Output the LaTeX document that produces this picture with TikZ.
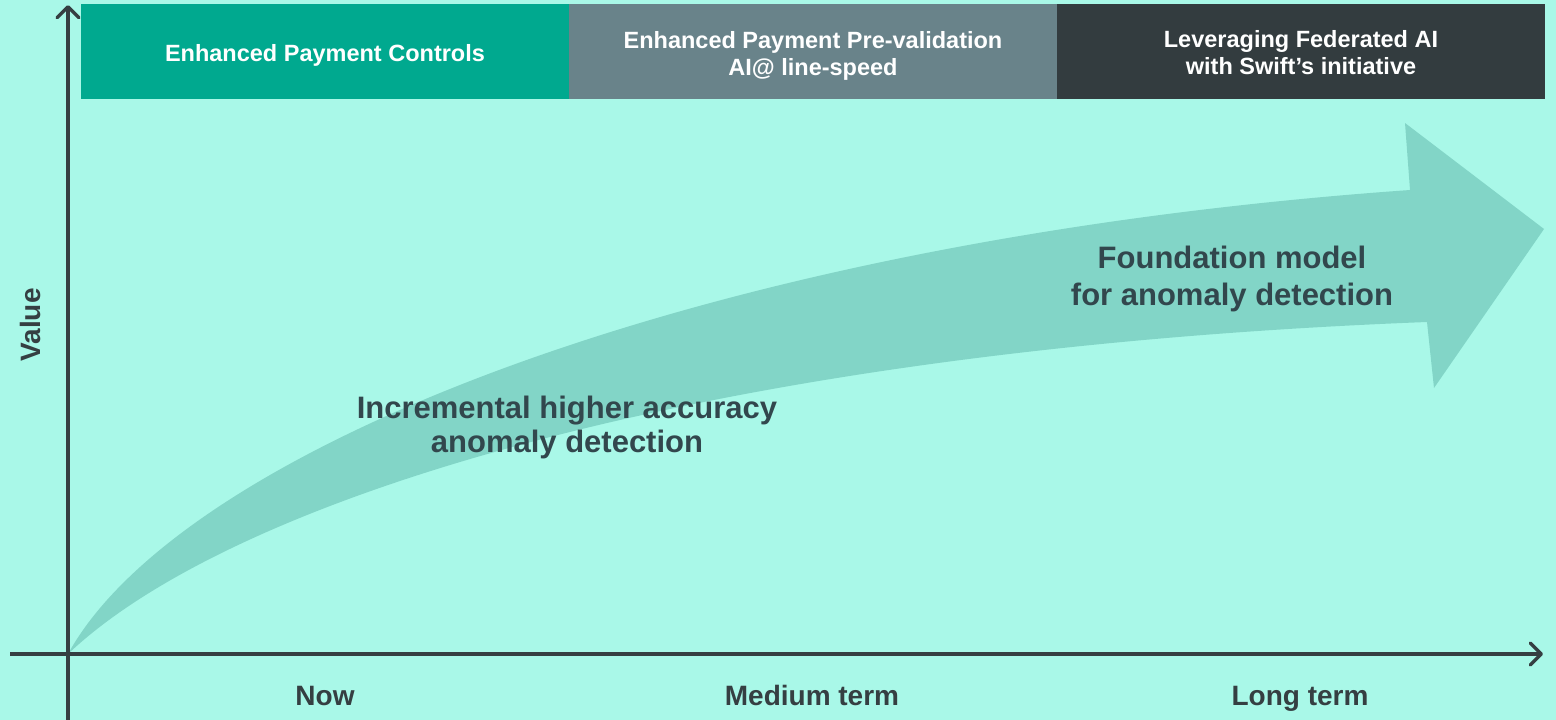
\documentclass[tikz,border=0pt]{standalone}
\usepackage{fontspec}
\setmainfont{Liberation Sans}
\usetikzlibrary{positioning,arrows.meta}

\definecolor{mint}{HTML}{A9F8E8}
\definecolor{band}{HTML}{82D5C7}
\definecolor{ctrl}{HTML}{00A98F}
\definecolor{prev}{HTML}{69838A}
\definecolor{fedai}{HTML}{333C3F}
\definecolor{axisc}{HTML}{353F42}
\definecolor{notec}{HTML}{32474D}

\def\bw{488pt}
\def\bh{95pt}

\begin{document}
\begin{tikzpicture}[x=1pt,y=-1pt,
    phase/.style={minimum width=\bw,minimum height=\bh,inner sep=0pt,outer sep=0pt},
    ptext/.style={text=white,align=center,font=\bfseries\fontsize{23.5}{27}\selectfont},
    tlabel/.style={text=axisc,font=\bfseries\fontsize{28}{32}\selectfont},
    note/.style={text=notec,align=center,font=\bfseries\fontsize{31}{#1}\selectfont},
    axis/.style={draw=axisc,line width=3.5pt,-{Straight Barb[length=11pt,width=22pt,round]}}]
    \fill[mint] (0,0) rectangle (1556,720);
    \useasboundingbox (0,0) rectangle (1556,720);

    \node[phase,fill=ctrl] (P1) at (325,51.5) {};
    \node[phase,fill=prev] (P2) [right=0pt of P1] {};
    \node[phase,fill=fedai] (P3) [right=0pt of P2] {};
    \node[ptext] (T1) at ([yshift=-4pt]P1.center) {Enhanced Payment Controls};
    \node[ptext] (T2) at ([yshift=-4pt]P2.center) {Enhanced Payment Pre-validation\\AI@ line-speed};
    \node[ptext] (T3) at ([yshift=-1pt]P3.center) {Leveraging Federated AI\\with Swift’s initiative};

    \coordinate (O) at (68,654);
    \coordinate (ytop) at (68,5);
    \coordinate (ybot) at (68,722);
    \coordinate (xleft) at (10,654);
    \coordinate (xright) at (1543,654);

    \fill[band] (O) .. controls (180,450) and (700,240) .. (1410,190)
      -- (1405,123) -- (1544,229) -- (1434,388) -- (1427,322)
      .. controls (700,350) and (230,500) .. (O) -- cycle;

    \draw[axis] (ybot) -- (ytop);
    \draw[axis] (xleft) -- (xright);

    \node[tlabel,anchor=base] (now) at (325,705) {Now};
    \node[tlabel,anchor=base] (mid) at (812,705) {Medium term};
    \node[tlabel,anchor=base] (long) at (1300,705) {Long term};
    \node[tlabel,rotate=90] (val) at (30,325) {Value};

    \node[note=34] (inc) at (567,427) {Incremental higher accuracy\\anomaly detection};
    \node[note=37] (fnd) at (1232,279) {Foundation model\\for anomaly detection};
  \end{tikzpicture}
\end{document}
